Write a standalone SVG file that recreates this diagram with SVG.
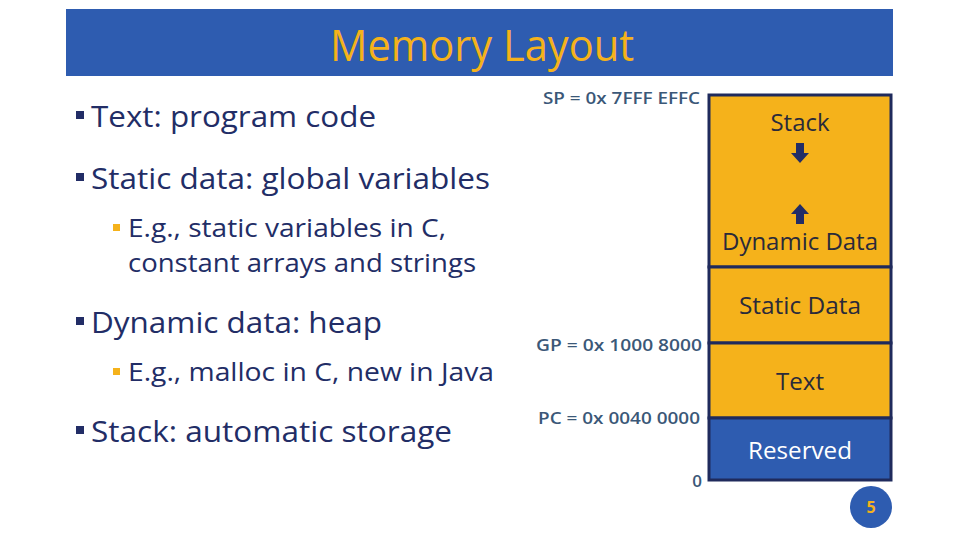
<svg xmlns="http://www.w3.org/2000/svg" width="960" height="540" viewBox="0 0 960 540">
<style>
.t{font-family:"Open Sans","Liberation Sans",sans-serif;fill:#222d66}
.b1{font-size:29px}
.b2{font-size:25px}
.lbl{font-family:"Open Sans","Liberation Sans",sans-serif;font-size:17px;font-weight:600;fill:#3b5878;text-anchor:end}
.seg{font-family:"Open Sans","Liberation Sans",sans-serif;font-size:23px;fill:#2a2a3a;text-anchor:middle}
.box{stroke:#1f2a5c;stroke-width:3}
</style>
<rect width="960" height="540" fill="#ffffff"/>
<g id="header">
<rect x="66" y="9" width="827" height="67" fill="#2e5cb0"/>
<text x="482" y="61" font-family="Open Sans,Liberation Sans,sans-serif" font-size="43" fill="#f5b21b" text-anchor="middle" textLength="304" lengthAdjust="spacingAndGlyphs">Memory Layout</text>
</g>
<g id="bullets">
<rect x="76" y="111" width="8" height="8" fill="#222d66"/>
<text class="t b1" x="91" y="127" textLength="285" lengthAdjust="spacingAndGlyphs">Text: program code</text>
<rect x="76" y="173" width="8" height="8" fill="#222d66"/>
<text class="t b1" x="91" y="189" textLength="399" lengthAdjust="spacingAndGlyphs">Static data: global variables</text>
<rect x="113" y="224" width="7" height="7" fill="#f5b21b"/>
<text class="t b2" x="128" y="237" textLength="318" lengthAdjust="spacingAndGlyphs">E.g., static variables in C,</text>
<text class="t b2" x="128" y="272" textLength="348" lengthAdjust="spacingAndGlyphs">constant arrays and strings</text>
<rect x="76" y="317" width="8" height="8" fill="#222d66"/>
<text class="t b1" x="91" y="333" textLength="291" lengthAdjust="spacingAndGlyphs">Dynamic data: heap</text>
<rect x="113" y="368" width="7" height="7" fill="#f5b21b"/>
<text class="t b2" x="128" y="381" textLength="366" lengthAdjust="spacingAndGlyphs">E.g., malloc in C, new in Java</text>
<rect x="76" y="426" width="8" height="8" fill="#222d66"/>
<text class="t b1" x="91" y="442" textLength="361" lengthAdjust="spacingAndGlyphs">Stack: automatic storage</text>
</g>
<g id="labels">
<text class="lbl" x="700" y="104" textLength="157" lengthAdjust="spacingAndGlyphs">SP = 0x 7FFF EFFC</text>
<text class="lbl" x="702" y="351" textLength="166" lengthAdjust="spacingAndGlyphs">GP = 0x 1000 8000</text>
<text class="lbl" x="700" y="424" textLength="162" lengthAdjust="spacingAndGlyphs">PC = 0x 0040 0000</text>
<text class="lbl" x="702" y="487">0</text>
</g>
<g id="stack-dynamic">
<rect class="box" x="709" y="95" width="182" height="172" fill="#f5b21b"/>
<text class="seg" x="800" y="131" textLength="59" lengthAdjust="spacingAndGlyphs">Stack</text>
<path d="M796,143 H804 V153 H809 L800,163 L791,153 H796 Z" fill="#222d66"/>
<path d="M800,204 L809,214 H804 V224 H796 V214 H791 Z" fill="#222d66"/>
<text class="seg" x="800" y="250" textLength="156" lengthAdjust="spacingAndGlyphs">Dynamic Data</text>
</g>
<g id="static-data">
<rect class="box" x="709" y="267" width="182" height="76" fill="#f5b21b"/>
<text class="seg" x="800" y="314" textLength="122" lengthAdjust="spacingAndGlyphs">Static Data</text>
</g>
<g id="text-seg">
<rect class="box" x="709" y="343" width="182" height="75" fill="#f5b21b"/>
<text class="seg" x="800" y="390" textLength="48" lengthAdjust="spacingAndGlyphs">Text</text>
</g>
<g id="reserved">
<rect class="box" x="709" y="418" width="182" height="62" fill="#2e5cb0"/>
<text class="seg" x="800" y="459" style="fill:#ffffff" textLength="104" lengthAdjust="spacingAndGlyphs">Reserved</text>
</g>
<g id="page">
<circle cx="871" cy="507" r="21" fill="#2e5cb0"/>
<text x="871" y="513" font-family="Open Sans,Liberation Sans,sans-serif" font-size="16" font-weight="700" fill="#f5b21b" text-anchor="middle">5</text>
</g>
<g id="connectors"/>
</svg>
